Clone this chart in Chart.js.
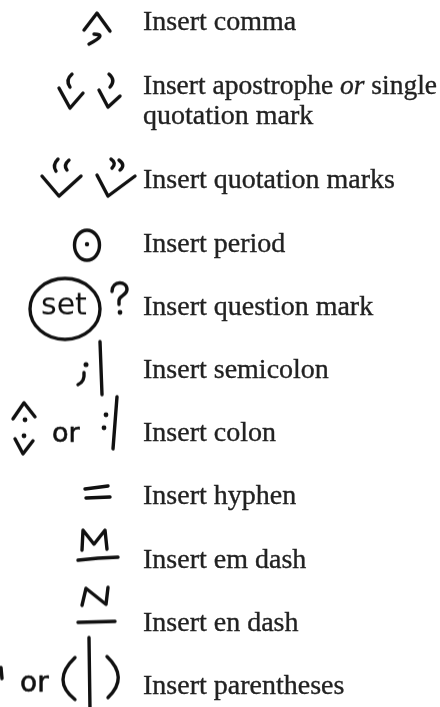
<!DOCTYPE html>
<html><head><meta charset="utf-8">
<script src="https://cdn.jsdelivr.net/npm/chart.js@4/dist/chart.umd.min.js"></script>
<style>html,body{margin:0;padding:0;background:#fff;overflow:hidden}#wrap{width:440px;height:707px;position:relative}</style>
</head><body><div id="wrap"><canvas id="c"></canvas></div>
<script>
// ---- data ----
const markNames = ['comma','apostrophe','quotation','period','question','semicolon','colon','hyphen','emdash','endash','parentheses'];
const labelLines = [
  ['Insert comma'],
  ['Insert apostrophe _or_ single', 'quotation mark'],
  ['Insert quotation marks'],
  ['Insert period'],
  ['Insert question mark'],
  ['Insert semicolon'],
  ['Insert colon'],
  ['Insert hyphen'],
  ['Insert em dash'],
  ['Insert en dash'],
  ['Insert parentheses']
];
const handWords = { question: 'set', colon: 'or', parentheses: 'or' };

// row slots: each row takes (lines + 1) units, mark sits at the row's middle
const rowPos = [];
(function(){ let acc = 0; labelLines.forEach(l => { const h = l.length + 1; rowPos.push(acc + h / 2); acc += h; }); })();

// ---- hand-drawn mark glyphs (local glyph coordinates) ----
const INK = '#111';
function glyphCanvas(fn){
  const c = document.createElement('canvas'); c.width = 140; c.height = 110;
  const g = c.getContext('2d');
  g.translate(0, 55);
  g.strokeStyle = INK; g.fillStyle = INK; g.lineWidth = 3.4; g.lineCap = 'round'; g.lineJoin = 'round';
  fn(g);
  return c;
}
function poly(g, p){ g.beginPath(); g.moveTo(p[0][0], p[0][1]); for (let i = 1; i < p.length; i++) g.lineTo(p[i][0], p[i][1]); g.stroke(); }
function q(g, a, b, c){ g.beginPath(); g.moveTo(a[0], a[1]); g.quadraticCurveTo(b[0], b[1], c[0], c[1]); g.stroke(); }
function dot(g, x, y, r){ g.beginPath(); g.arc(x, y, r || 2.4, 0, Math.PI * 2); g.fill(); }
function oval(g, x, y, rx, ry){ g.beginPath(); g.ellipse(x, y, rx, ry, 0, 0, Math.PI * 2); g.stroke(); }
function word(g, t, x, y, size, extra){
  g.font = size + 'px "DejaVu Sans"'; g.textBaseline = 'alphabetic';
  g.save(); g.lineWidth = extra; g.fillText(t, x, y); if (extra > 0) g.strokeText(t, x, y); g.restore();
}

const glyphDraw = {
  comma: g => { poly(g, [[84,8],[97,-9],[110,9]]); q(g, [94,12], [108,12], [89,22]); },
  apostrophe: g => {
    q(g, [72,-27], [65,-21], [70,-14]); poly(g, [[59,-13],[70,7],[83,-8]]);
    q(g, [109,-27], [116,-21], [110,-14]); poly(g, [[99,-11],[108,6],[120,-5]]);
  },
  quotation: g => {
    q(g, [58,-21], [52,-15], [56,-9]); q(g, [69,-20], [63,-15], [67,-10]);
    poly(g, [[42,-4],[59,16],[81,-4]]);
    q(g, [111,-21], [117,-17], [112,-12]); q(g, [119,-20], [126,-15], [120,-10]);
    poly(g, [[97,-5],[108,16],[135,-4]]);
  },
  period: g => { oval(g, 87, 2, 12.5, 15); dot(g, 87, 1, 2.2); },
  question: g => {
    oval(g, 65, 2.5, 35, 30.5);
    word(g, handWords.question, 41, 8, 30, 0);
    g.beginPath(); g.moveTo(112,-15); g.bezierCurveTo(112,-26,127,-26,127,-17); g.bezierCurveTo(127,-11,119,-11,119,-6); g.lineTo(119,-2); g.stroke();
    dot(g, 120, 6, 2.4);
  },
  semicolon: g => { dot(g, 86, -5, 2.5); q(g, [84,3], [85,12], [78,15]); poly(g, [[100,-28],[102,25]]); },
  colon: g => {
    poly(g, [[13,-14],[24,-30],[35,-16]]); dot(g, 25, -13, 2.4); dot(g, 24, 3, 2.4); poly(g, [[15,6],[23,21],[33,8]]);
    word(g, handWords.colon, 52, 9, 27, 0.6);
    dot(g, 106, -18, 2.4); dot(g, 104, -5, 2.4); poly(g, [[117,-36],[113,16]]);
  },
  hyphen: g => { poly(g, [[85,-7],[108,-10]]); poly(g, [[86,2],[110,1]]); },
  emdash: g => { poly(g, [[82,-9],[83,-29],[94,-15],[105,-29],[107,-10]]); poly(g, [[78,1],[98,-1],[118,-2]]); },
  endash: g => { poly(g, [[82,-17],[86,-34],[106,-18],[108,-35]]); poly(g, [[78,0],[115,-1]]); },
  parentheses: g => {
    poly(g, [[1,-18],[2,-7]]);
    word(g, handWords.parentheses, 20, 6, 28, 0.6);
    q(g, [75,-28], [51,-5], [75,14]); poly(g, [[89,-48],[90,25]]); q(g, [107,-29], [129,-8], [108,12]);
  }
};
const glyphs = markNames.map(n => glyphCanvas(glyphDraw[n]));

// ---- label text plugin ----
const labelPlugin = {
  id: 'labels',
  afterDatasetsDraw(chart){
    const { ctx, chartArea } = chart; const ys = chart.scales.y; const xs = chart.scales.x;
    const x0 = xs.getPixelForValue(143);
    const avail = chartArea.right - 3 - x0;
    ctx.save();
    ctx.fillStyle = '#222'; ctx.strokeStyle = '#222'; ctx.lineWidth = 0.35; ctx.textBaseline = 'middle';
    const fontFor = k => (k % 2 ? 'italic ' : '') + '28px "Liberation Serif"';
    labelLines.forEach((lines, i) => {
      const cy = ys.getPixelForValue(rowPos[i]) + 1;
      lines.forEach((line, j) => {
        const y = cy + (j - (lines.length - 1) / 2) * 30;
        const segs = line.split('_');
        let total = 0;
        segs.forEach((s, k) => { ctx.font = fontFor(k); total += ctx.measureText(s).width; });
        const sx = total > avail ? avail / total : 1;
        ctx.save(); ctx.translate(x0, y); ctx.scale(sx, 1);
        let x = 0;
        segs.forEach((seg, k) => {
          ctx.font = fontFor(k);
          ctx.fillText(seg, x, 0); ctx.strokeText(seg, x, 0);
          x += ctx.measureText(seg).width;
        });
        ctx.restore();
      });
    });
    ctx.restore();
  }
};

new Chart(document.getElementById('c'), {
  type: 'scatter',
  data: { datasets: [{
    data: markNames.map((n, i) => ({ x: 70, y: rowPos[i] })),
    pointStyle: glyphs, pointRadius: 4, pointHoverRadius: 4, showLine: false
  }]},
  options: {
    responsive: true, maintainAspectRatio: false, animation: false, events: [],
    layout: { padding: 0, autoPadding: false },
    plugins: { legend: { display: false }, tooltip: { enabled: false } },
    scales: {
      x: { type: 'linear', display: false, min: 0, max: 440 },
      y: { type: 'linear', display: false, reverse: true, min: 0.3, max: 22.68 }
    }
  },
  plugins: [labelPlugin]
});
</script></body></html>
